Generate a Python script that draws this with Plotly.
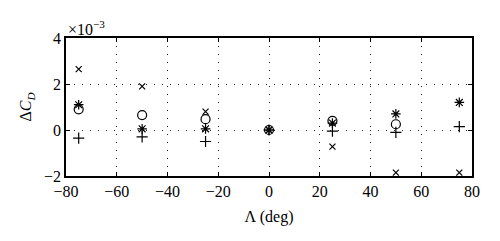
import plotly.graph_objects as go

sweep = [-75, -50, -25, 0, 25, 50, 75]
# values in units of 1e-3
cross_vals = [2.65, 1.9, 0.8, 0.0, -0.72, -1.85, -1.85]
star_vals = [1.1, 0.05, 0.05, 0.0, 0.3, 0.7, 1.2]
circle_sweep = [-75, -50, -25, 0, 25, 50]
circle_vals = [0.9, 0.65, 0.47, 0.0, 0.4, 0.25]
plus_vals = [-0.35, -0.3, -0.5, 0.0, -0.05, -0.1, 0.15]

xticks = [-80, -60, -40, -20, 0, 20, 40, 60, 80]
yticks = [-2, 0, 2, 4]

fig = go.Figure()
mk = dict(color="black", line=dict(color="black", width=1.2))
fig.add_trace(go.Scatter(x=sweep, y=cross_vals, mode="markers",
                         marker=dict(symbol="x-thin-open", size=6, **mk)))
fig.add_trace(go.Scatter(x=circle_sweep, y=circle_vals, mode="markers",
                         marker=dict(symbol="circle-open", size=9, **mk)))
fig.add_trace(go.Scatter(x=sweep, y=star_vals, mode="markers",
                         marker=dict(symbol="asterisk-open", size=8, **mk)))
fig.add_trace(go.Scatter(x=sweep, y=plus_vals, mode="markers",
                         marker=dict(symbol="cross-thin-open", size=8, **mk)))

font = dict(family="Liberation Serif, Times New Roman, serif", size=16, color="black")
axis_common = dict(showline=True, linecolor="black", linewidth=1.5, mirror="ticks",
                   ticks="inside", ticklen=4, tickcolor="black",
                   showgrid=True, gridcolor="#222", griddash="1px,7px", gridwidth=1,
                   zeroline=False, tickfont=font)
fig.update_layout(
    width=500, height=241,
    margin=dict(l=66, r=28, t=38, b=65),
    paper_bgcolor="white", plot_bgcolor="white",
    showlegend=False, font=font,
    xaxis=dict(range=[-80, 80], tickvals=xticks,
               ticktext=[("\u2212" + str(-v)) if v < 0 else str(v) for v in xticks],
               title=dict(text="\u039b (deg)", font=font, standoff=12), **axis_common),
    yaxis=dict(range=[-2, 4], tickvals=yticks,
               ticktext=[("\u2212" + str(-v)) if v < 0 else str(v) for v in yticks],
               title=dict(text="\u0394<i>C</i><sub><i>D</i></sub>", font=font, standoff=8),
               **axis_common),
    annotations=[dict(text="\u00d710<sup>\u22123</sup>", xref="paper", yref="paper",
                      x=0.0, y=1.0, xanchor="left", yanchor="bottom", showarrow=False,
                      yshift=-2, font=font)],
)
fig.write_html("out.html")
